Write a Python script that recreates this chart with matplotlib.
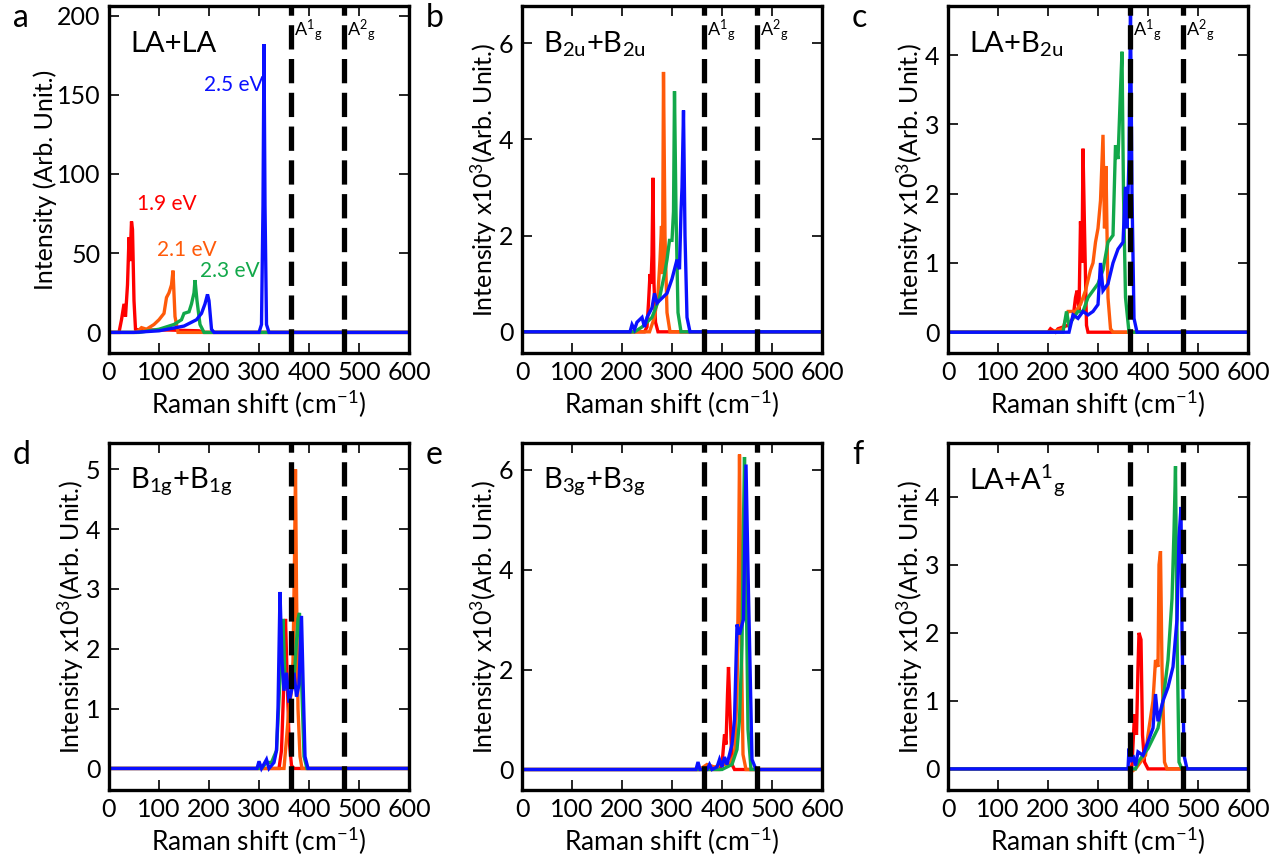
import matplotlib
matplotlib.use("Agg")
import matplotlib.pyplot as plt

plt.rcParams["font.family"] = ["Lato", "DejaVu Sans"]
plt.rcParams["mathtext.default"] = "regular"

RED, ORANGE, GREEN, BLUE = "#ff0000", "#ff5a0a", "#12a84a", "#0a10ff"
A1G, A2G = 363, 469

# ---- panel a: LA+LA (absolute) ----
a_red_x = [0, 20, 25, 30, 33, 37, 40, 42, 45, 47, 50, 53, 60, 120, 180, 190, 600]
a_red_y = [0, 0, 8, 18, 10, 30, 60, 45, 70, 65, 20, 2, 1.5, 1.5, 1, 0, 0]
a_org_x = [0, 55, 65, 75, 90, 100, 110, 115, 120, 125, 128, 132, 138, 600]
a_org_y = [0, 0, 3, 2, 5, 8, 12, 22, 25, 30, 39, 10, 0, 0]
a_grn_x = [0, 60, 100, 130, 145, 150, 160, 165, 170, 172, 176, 182, 190, 600]
a_grn_y = [0, 0, 2, 5, 8, 12, 13, 18, 25, 33, 20, 5, 0, 0]
a_blu_x = [0, 50, 100, 150, 175, 185, 192, 197, 200, 205, 210, 300, 305, 308, 310, 312, 315, 320, 600]
a_blu_y = [0, 0, 1, 4, 8, 12, 18, 24, 20, 2, 0, 0, 5, 80, 182, 80, 5, 0, 0]

# ---- panel b: B2u+B2u (x10^3) ----
b_red_x = [0, 245, 250, 253, 256, 258, 260, 262, 264, 267, 272, 600]
b_red_y = [0, 0, 0.1, 0.6, 1.2, 1.0, 1.6, 3.2, 1.0, 0.2, 0, 0]
b_org_x = [0, 255, 265, 272, 276, 279, 281, 283, 286, 290, 296, 600]
b_org_y = [0, 0, 0.3, 0.8, 1.5, 2.2, 1.2, 5.4, 2.0, 0.4, 0, 0]
b_grn_x = [0, 225, 240, 260, 275, 285, 290, 295, 300, 303, 305, 308, 312, 318, 600]
b_grn_y = [0, 0, 0.1, 0.3, 0.7, 1.2, 1.5, 1.9, 1.9, 2.5, 5.0, 2.5, 0.4, 0, 0]
b_blu_x = [0, 216, 220, 225, 230, 240, 245, 250, 260, 265, 270, 280, 290, 300, 305, 310, 315, 318, 320, 323, 326, 330, 336, 600]
b_blu_y = [0, 0, 0.15, 0.05, 0.2, 0.3, 0.1, 0.3, 0.5, 0.8, 0.6, 0.7, 0.8, 1.1, 1.3, 1.5, 1.3, 2.5, 3.0, 4.6, 2.0, 0.3, 0, 0]

# ---- panel c: LA+B2u ----
c_red_x = [0, 200, 205, 215, 220, 240, 250, 255, 258, 262, 265, 268, 270, 273, 277, 280, 600]
c_red_y = [0, 0, 0.05, 0, 0.05, 0.1, 0.2, 0.5, 0.6, 0.3, 1.6, 1.0, 2.65, 1.5, 0.1, 0, 0]
c_org_x = [0, 205, 230, 240, 255, 265, 275, 285, 290, 295, 300, 305, 310, 313, 316, 320, 325, 330, 600]
c_org_y = [0, 0, 0.05, 0.3, 0.3, 0.4, 0.6, 0.9, 1.0, 1.3, 1.5, 1.9, 2.85, 1.5, 2.4, 0.5, 0.05, 0, 0]
c_grn_x = [0, 230, 237, 242, 250, 260, 270, 280, 290, 300, 310, 320, 330, 335, 340, 345, 348, 351, 355, 362, 600]
c_grn_y = [0, 0, 0.3, 0.1, 0.2, 0.3, 0.3, 0.5, 0.6, 0.7, 0.9, 1.3, 1.4, 2.7, 2.5, 3.5, 4.05, 2.0, 0.5, 0, 0]
c_blu_x = [0, 242, 250, 260, 270, 280, 290, 300, 305, 310, 320, 330, 340, 350, 355, 358, 362, 365, 368, 372, 378, 600]
c_blu_y = [0, 0, 0.25, 0.2, 0.3, 0.25, 0.3, 0.4, 1.0, 0.6, 0.7, 1.0, 1.2, 1.3, 2.1, 1.5, 2.5, 4.6, 2.0, 0.2, 0, 0]

# ---- panel d: B1g+B1g ----
d_red_x = [0, 340, 345, 350, 353, 356, 360, 365, 370, 600]
d_red_y = [0, 0, 0.3, 1.5, 2.5, 1.6, 0.5, 0.05, 0, 0]
d_org_x = [0, 350, 355, 360, 365, 368, 371, 373, 375, 378, 382, 386, 600]
d_org_y = [0, 0, 0.5, 1.0, 1.3, 1.8, 3.5, 5.0, 3.0, 1.0, 0.2, 0, 0]
d_grn_x = [0, 305, 315, 325, 335, 345, 348, 352, 360, 370, 378, 381, 385, 390, 396, 600]
d_grn_y = [0, 0, 0.1, 0.1, 0.3, 2.0, 2.5, 1.5, 1.4, 1.5, 2.5, 2.6, 1.5, 0.2, 0, 0]
d_blu_x = [0, 296, 300, 305, 315, 320, 330, 335, 338, 342, 346, 350, 355, 360, 365, 370, 375, 380, 385, 388, 392, 398, 600]
d_blu_y = [0, 0, 0.12, 0, 0.15, 0, 0.1, 0.3, 1.0, 2.95, 1.8, 1.3, 1.6, 1.1, 1.3, 1.6, 1.2, 1.4, 2.55, 1.5, 0.2, 0, 0]

# ---- panel e: B3g+B3g ----
e_red_x = [0, 395, 400, 405, 408, 411, 413, 416, 420, 425, 600]
e_red_y = [0, 0, 0.1, 0.7, 0.5, 1.5, 2.05, 1.2, 0.1, 0, 0]
e_org_x = [0, 355, 370, 385, 400, 415, 425, 430, 433, 435, 438, 442, 448, 600]
e_org_y = [0, 0, 0.1, 0.05, 0.1, 0.1, 0.3, 1.5, 4.0, 6.3, 3.0, 0.3, 0, 0]
e_grn_x = [0, 400, 420, 430, 435, 440, 443, 445, 448, 452, 458, 600]
e_grn_y = [0, 0, 0.1, 0.4, 1.0, 2.5, 5.0, 6.25, 4.0, 0.8, 0, 0]
e_blu_x = [0, 348, 352, 356, 370, 375, 380, 390, 395, 400, 405, 410, 415, 420, 425, 430, 435, 440, 443, 448, 452, 460, 468, 600]
e_blu_y = [0, 0, 0.15, 0, 0, 0.1, 0, 0.05, 0.2, 0.05, 0.25, 0.1, 0.3, 0.5, 1.0, 2.9, 2.7, 2.9, 3.0, 6.1, 4.0, 0.2, 0, 0]

# ---- panel f: LA+A1g ----
f_red_x = [0, 362, 368, 373, 377, 380, 382, 384, 386, 389, 393, 400, 600]
f_red_y = [0, 0, 0.05, 0.8, 0.5, 1.5, 2.0, 1.95, 1.9, 0.5, 0.1, 0, 0]
f_org_x = [0, 360, 365, 375, 385, 395, 400, 410, 415, 420, 422, 425, 428, 433, 438, 600]
f_org_y = [0, 0, -0.05, 0, 0.1, 0.2, 0.5, 1.0, 1.6, 1.5, 3.0, 3.2, 1.5, 0.1, 0, 0]
f_grn_x = [0, 375, 380, 400, 420, 430, 440, 448, 452, 455, 458, 462, 468, 600]
f_grn_y = [0, 0, 0.1, 0.3, 0.6, 1.0, 1.6, 2.5, 3.5, 4.45, 2.0, 0.1, 0, 0]
f_blu_x = [0, 360, 362, 365, 370, 375, 380, 390, 400, 410, 415, 420, 430, 440, 450, 458, 462, 466, 468, 472, 478, 600]
f_blu_y = [0, 0, 0.3, 0.1, 0.2, 0.05, 0.25, 0.2, 0.4, 0.6, 1.1, 0.7, 1.0, 1.2, 1.5, 2.2, 3.4, 3.85, 2.0, 0.2, 0, 0]

panels = [
    ("a", "LA+LA", (-13, 206), [0, 50, 100, 150, 200],
     [(a_red_x, a_red_y), (a_org_x, a_org_y), (a_grn_x, a_grn_y), (a_blu_x, a_blu_y)]),
    ("b", "B$_{2u}$+B$_{2u}$", (-0.44, 6.77), [0, 2, 4, 6],
     [(b_red_x, b_red_y), (b_org_x, b_org_y), (b_grn_x, b_grn_y), (b_blu_x, b_blu_y)]),
    ("c", "LA+B$_{2u}$", (-0.3, 4.71), [0, 1, 2, 3, 4],
     [(c_red_x, c_red_y), (c_org_x, c_org_y), (c_grn_x, c_grn_y), (c_blu_x, c_blu_y)]),
    ("d", "B$_{1g}$+B$_{1g}$", (-0.36, 5.44), [0, 1, 2, 3, 4, 5],
     [(d_red_x, d_red_y), (d_org_x, d_org_y), (d_grn_x, d_grn_y), (d_blu_x, d_blu_y)]),
    ("e", "B$_{3g}$+B$_{3g}$", (-0.41, 6.53), [0, 2, 4, 6],
     [(e_red_x, e_red_y), (e_org_x, e_org_y), (e_grn_x, e_grn_y), (e_blu_x, e_blu_y)]),
    ("f", "LA+A$^{1}{}_{g}$", (-0.31, 4.79), [0, 1, 2, 3, 4],
     [(f_red_x, f_red_y), (f_org_x, f_org_y), (f_grn_x, f_grn_y), (f_blu_x, f_blu_y)]),
]
colors = [RED, ORANGE, GREEN, BLUE]

W, H = 1284, 859
fig = plt.figure(figsize=(W / 100, H / 100), dpi=100)
lefts = [109, 522, 948]
tops = [6, 443]
aw, ah = 300, 347

for i, (letter, title, ylim, yticks, series) in enumerate(panels):
    col, row = i % 3, i // 3
    l, t = lefts[col], tops[row]
    ax = fig.add_axes([l / W, 1 - (t + ah) / H, aw / W, ah / H])
    for (xs, ys), c in zip(series, colors):
        ax.plot(xs, ys, color=c, lw=2.4, solid_joinstyle="miter")
    for xv in (A1G, A2G):
        ax.axvline(xv, color="black", lw=3.8, dashes=(4.6, 1.8), zorder=3)
    ax.set_xlim(0, 600)
    ax.set_ylim(*ylim)
    ax.set_xticks([0, 100, 200, 300, 400, 500, 600])
    ax.set_yticks(yticks)
    ax.tick_params(direction="in", length=7, width=1.2, top=True, right=True,
                   labelsize=18, pad=6)
    for s in ax.spines.values():
        s.set_linewidth(2.4)
    ax.set_xlabel("Raman shift (cm$^{-1}$)", fontsize=19, labelpad=3)
    if i == 0:
        ax.set_ylabel("Intensity (Arb. Unit.)", fontsize=18, labelpad=0)
    else:
        ax.set_ylabel("Intensity x10$^3$(Arb. Unit.)", fontsize=18, labelpad=0)
    ax.text(0.07, 0.89, title, transform=ax.transAxes, fontsize=21, va="center")
    if row == 0:
        ax.text(A1G + 7, 0.93, "A$^{1}{}_{g}$", transform=ax.get_xaxis_transform(),
                fontsize=13, va="center")
        ax.text(A2G + 7, 0.93, "A$^{2}{}_{g}$", transform=ax.get_xaxis_transform(),
                fontsize=13, va="center")
    fig.text((l - 96) / W, 1 - (t + 12) / H, letter, fontsize=23, va="center")

ax0 = fig.axes[0]
ax0.text(56, 81, "1.9 eV", color=RED, fontsize=15, va="center")
ax0.text(96, 52, "2.1 eV", color=ORANGE, fontsize=15, va="center")
ax0.text(181, 39, "2.3 eV", color=GREEN, fontsize=15, va="center")
ax0.text(190, 156, "2.5 eV", color=BLUE, fontsize=15, va="center")

fig.savefig("out.png", dpi=100)
